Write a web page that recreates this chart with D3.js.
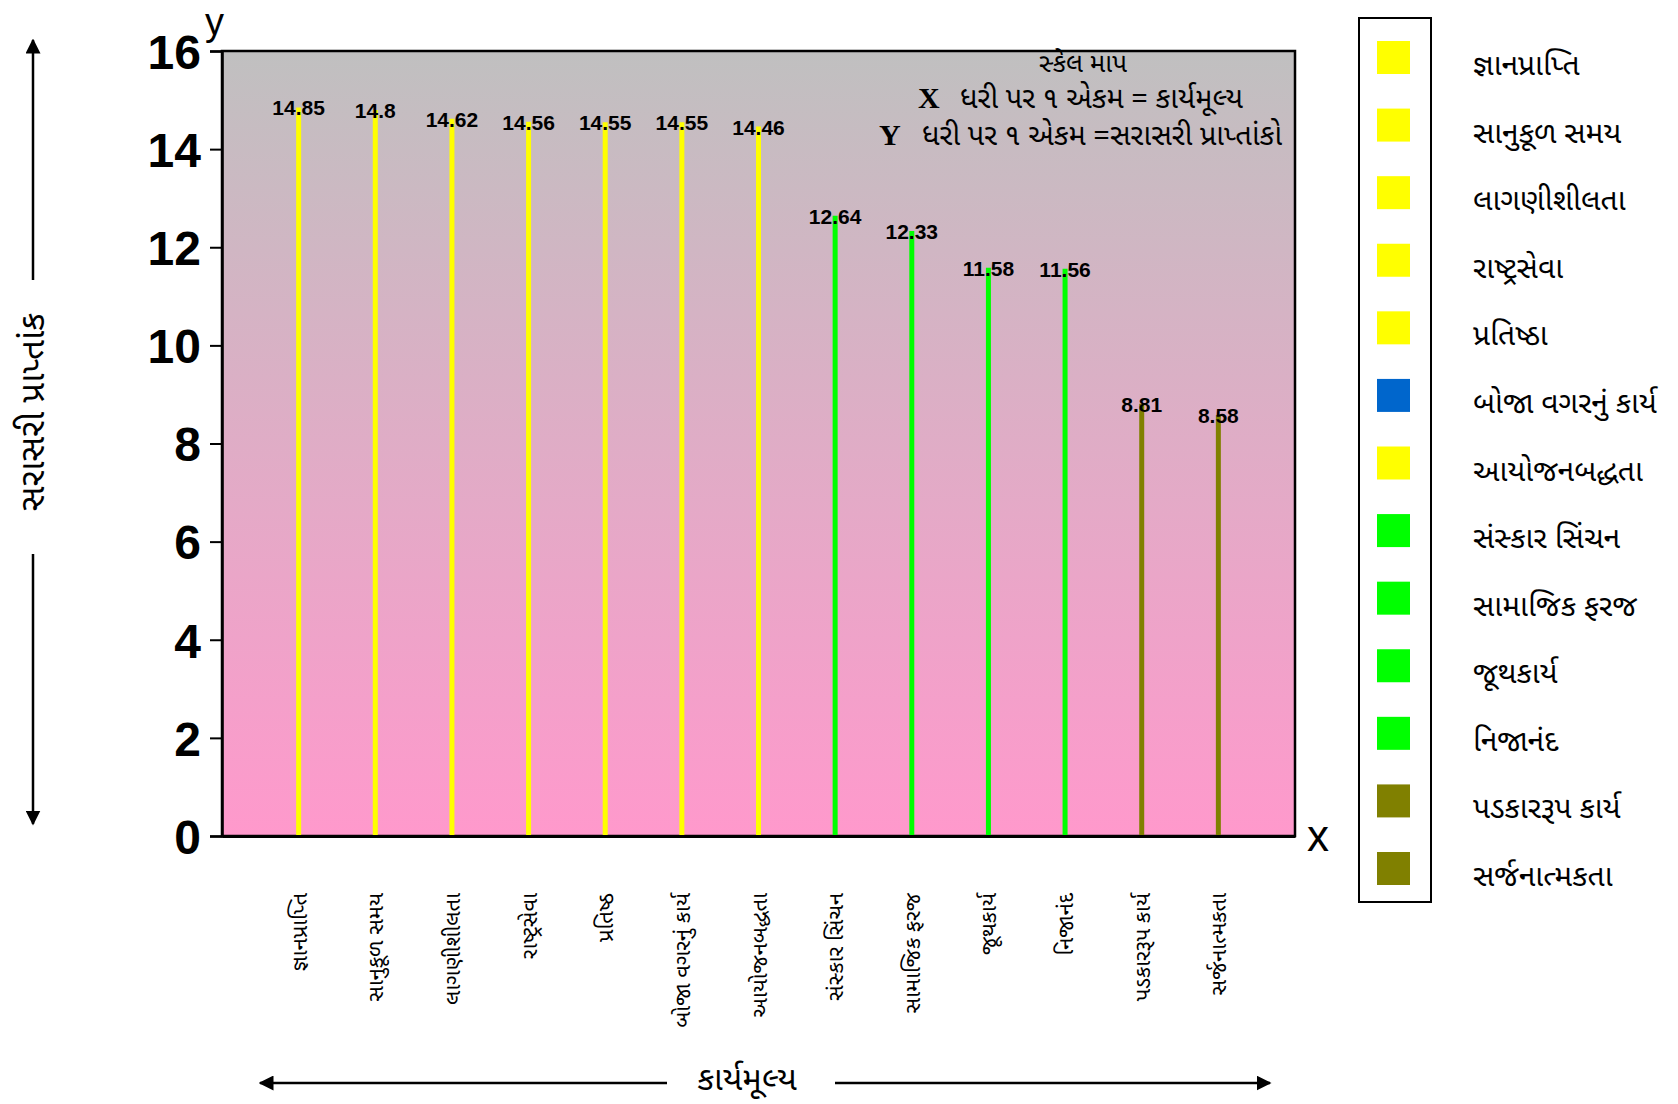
<!DOCTYPE html>
<html>
<head>
<meta charset="utf-8">
<script src="https://cdn.jsdelivr.net/npm/d3@7/dist/d3.min.js"></script>
<style>
  html, body { margin: 0; padding: 0; background: #fff; }
  svg { display: block; }
  .guj { font-family: "Noto Sans Gujarati", "Lohit Gujarati", "Shruti", "Noto Sans", sans-serif; }
  .num { font-family: "Liberation Sans Narrow", "Liberation Sans", Arial, sans-serif; font-weight: bold; }
</style>
</head>
<body>
<svg id="chart" width="1678" height="1104"></svg>
<script>
// ---------- DATA ----------
const categories = ["જ્ઞાનપ્રાપ્તિ","સાનુકૂળ સમય","લાગણીશીલતા","રાષ્ટ્રસેવા","પ્રતિષ્ઠા","બોજા વગરનું કાર્ય","આયોજનબદ્ધતા","સંસ્કાર સિંચન","સામાજિક ફરજ","જૂથકાર્ય","નિજાનંદ","પડકારરૂપ કાર્ય","સર્જનાત્મકતા"];
const axisLabels = ["જ્ઞાનપ્રાપ્તિ","સાનુકૂળ સમય","લાગણીશીલતા","રાષ્ટ્રસેવા","પ્રતિષ્ઠ","બોજા વગરનું કાર્ય","આયોજનબદ્ધતા","સંસ્કાર સિંચન","સામાજિક ફરજ","જૂથકાર્ય","નિજાનંદ","પડકારરૂપ કાર્ય","સર્જનાત્મકતા"];
const values = [14.85, 14.8, 14.62, 14.56, 14.55, 14.55, 14.46, 12.64, 12.33, 11.58, 11.56, 8.81, 8.58];
const stemColors = ["#FFFF00","#FFFF00","#FFFF00","#FFFF00","#FFFF00","#FFFF00","#FFFF00","#00FF00","#00FF00","#00FF00","#00FF00","#808000","#808000"];
const legendColors = ["#FFFF00","#FFFF00","#FFFF00","#FFFF00","#FFFF00","#0066CC","#FFFF00","#00FF00","#00FF00","#00FF00","#00FF00","#808000","#808000"];
const yTicks = [0, 2, 4, 6, 8, 10, 12, 14, 16];
const yDomain = [0, 16];
const xTitle = "કાર્યમૂલ્ય";
const yTitle = "સરાસરી પ્રાપ્તાંક";
const scaleTitle = "સ્કેલ માપ";
const scaleX = "ધરી પર ૧ એકમ =  કાર્યમૂલ્ય";
const scaleY = "ધરી પર ૧ એકમ =સરાસરી પ્રાપ્તાંકો";

// ---------- LAYOUT ----------
const plot = { left: 222, right: 1295, top: 51, bottom: 836 };
const svg = d3.select("#chart");

const defs = svg.append("defs");
const grad = defs.append("linearGradient").attr("id", "bg").attr("x1", 0).attr("y1", 0).attr("x2", 0).attr("y2", 1);
grad.append("stop").attr("offset", "0%").attr("stop-color", "#C0C0C0");
grad.append("stop").attr("offset", "100%").attr("stop-color", "#FF99CC");

const arrow = defs.append("marker").attr("id", "arr").attr("viewBox", "0 0 10 10")
  .attr("refX", 9).attr("refY", 5).attr("markerWidth", 6).attr("markerHeight", 6)
  .attr("markerUnits", "strokeWidth").attr("orient", "auto-start-reverse");
arrow.append("path").attr("d", "M0,0 L10,5 L0,10 Z").attr("fill", "#000");

const x = d3.scalePoint().domain(categories).range([plot.left, plot.right]).padding(1);
const y = d3.scaleLinear().domain(yDomain).range([plot.bottom, plot.top]);

// plot background
svg.append("rect")
  .attr("x", plot.left).attr("y", plot.top)
  .attr("width", plot.right - plot.left).attr("height", plot.bottom - plot.top)
  .attr("fill", "url(#bg)").attr("stroke", "#000").attr("stroke-width", 2.5);

// stems
svg.append("g").selectAll("line").data(values).join("line")
  .attr("x1", (d, i) => x(categories[i])).attr("x2", (d, i) => x(categories[i]))
  .attr("y1", y(0)).attr("y2", d => y(d))
  .attr("stroke", (d, i) => stemColors[i]).attr("stroke-width", 5);

// value labels
svg.append("g").selectAll("text").data(values).join("text")
  .attr("class", "num")
  .attr("x", (d, i) => x(categories[i])).attr("y", d => y(d) + 8)
  .attr("text-anchor", "middle").attr("font-size", 21).attr("fill", "#000")
  .text(d => d);

// y axis
const yAxis = svg.append("g").attr("transform", `translate(${plot.left},0)`)
  .call(d3.axisLeft(y).tickValues(yTicks).tickSize(12).tickPadding(9).tickFormat(d3.format("d")));
yAxis.select(".domain").attr("stroke-width", 2.5);
yAxis.selectAll(".tick line").attr("stroke-width", 2);
yAxis.selectAll(".tick text").attr("class", "num").attr("font-size", 48).attr("fill", "#000").attr("dy", "0.36em");

// x axis (line only)
const xAxis = svg.append("g").attr("transform", `translate(0,${plot.bottom})`)
  .call(d3.axisBottom(x).tickSize(0).tickFormat(""));
xAxis.select(".domain").attr("stroke-width", 3);

// rotated category labels
svg.append("g").selectAll("text").data(axisLabels).join("text")
  .attr("class", "guj")
  .attr("transform", (d, i) => `translate(${x(categories[i]) + 8},${893}) rotate(-90)`)
  .attr("text-anchor", "end").attr("font-size", 22).attr("fill", "#000")
  .text(d => d);

// axis letters
svg.append("text").attr("x", 205).attr("y", 35).attr("font-size", 38)
  .attr("font-family", "'Liberation Sans Narrow','Liberation Sans',Arial,sans-serif").text("y");
svg.append("text").attr("x", 1307).attr("y", 851).attr("font-size", 44)
  .attr("font-family", "'Liberation Sans Narrow','Liberation Sans',Arial,sans-serif").text("x");

// scale note
svg.append("text").attr("class", "guj").attr("x", 1083).attr("y", 72).attr("text-anchor", "middle")
  .attr("font-size", 26).text(scaleTitle);
svg.append("text").attr("x", 918).attr("y", 108).attr("font-size", 30).attr("font-weight", "bold")
  .attr("font-family", "'Liberation Serif','Times New Roman',serif").text("X");
svg.append("text").attr("class", "guj").attr("x", 960).attr("y", 108).attr("font-size", 29).text(scaleX);
svg.append("text").attr("x", 879).attr("y", 145).attr("font-size", 30).attr("font-weight", "bold")
  .attr("font-family", "'Liberation Serif','Times New Roman',serif").text("Y");
svg.append("text").attr("class", "guj").attr("x", 922).attr("y", 145).attr("font-size", 29).text(scaleY);

// legend
svg.append("rect").attr("x", 1359).attr("y", 18).attr("width", 72).attr("height", 884)
  .attr("fill", "#fff").attr("stroke", "#000").attr("stroke-width", 2);
const legY = d3.scalePoint().domain(categories).range([57, 868]);
svg.append("g").selectAll("rect").data(categories).join("rect")
  .attr("x", 1377).attr("y", d => legY(d) - 16).attr("width", 33).attr("height", 33)
  .attr("fill", (d, i) => legendColors[i]);
svg.append("g").selectAll("text").data(categories).join("text")
  .attr("class", "guj").attr("x", 1473).attr("y", d => legY(d) + 18)
  .attr("font-size", 30).attr("fill", "#000").text(d => d);

// y title with arrows
svg.append("line").attr("x1", 33).attr("x2", 33).attr("y1", 280).attr("y2", 40)
  .attr("stroke", "#000").attr("stroke-width", 2.5).attr("marker-end", "url(#arr)");
svg.append("line").attr("x1", 33).attr("x2", 33).attr("y1", 554).attr("y2", 824)
  .attr("stroke", "#000").attr("stroke-width", 2.5).attr("marker-end", "url(#arr)");
svg.append("text").attr("class", "guj").attr("transform", "translate(44,412) rotate(-90)")
  .attr("text-anchor", "middle").attr("font-size", 35).text(yTitle);

// x title with arrows
svg.append("line").attr("x1", 667).attr("x2", 260).attr("y1", 1083).attr("y2", 1083)
  .attr("stroke", "#000").attr("stroke-width", 2.5).attr("marker-end", "url(#arr)");
svg.append("line").attr("x1", 835).attr("x2", 1270).attr("y1", 1083).attr("y2", 1083)
  .attr("stroke", "#000").attr("stroke-width", 2.5).attr("marker-end", "url(#arr)");
svg.append("text").attr("class", "guj").attr("x", 747).attr("y", 1090).attr("text-anchor", "middle")
  .attr("font-size", 33).text(xTitle);
</script>
</body>
</html>
